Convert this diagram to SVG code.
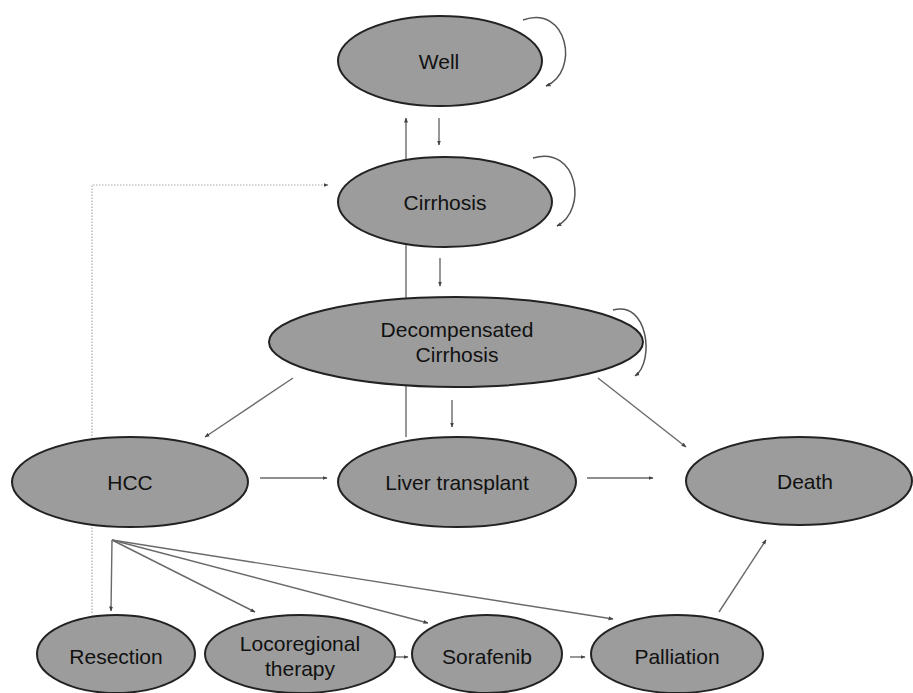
<svg xmlns="http://www.w3.org/2000/svg" width="913" height="693" viewBox="0 0 913 693">
<defs>
<style>
.node ellipse{fill:#9c9c9c;stroke:#222;stroke-width:2}
.node text{font-family:"Liberation Sans",Arial,sans-serif;font-size:21px;fill:#111;text-anchor:middle}
.conn path,.conn line{stroke:#6a6a6a;stroke-width:1.4;fill:none;marker-end:url(#ah)}
.conn .dot{stroke:#aaa;stroke-width:1.2;stroke-dasharray:1.5 1.5}
.conn .loop{stroke:#555;stroke-width:1.5}
.conn .dseg{marker-end:none}
</style>
<marker id="ah" viewBox="0 0 10 10" refX="9" refY="5" markerWidth="5" markerHeight="5" orient="auto" markerUnits="userSpaceOnUse">
<path d="M0,1 L10,5 L0,9 z" fill="#444"/>
</marker>
</defs>
<rect width="913" height="693" fill="#fff"/>
<g id="connectors" class="conn">
<line x1="439" y1="118" x2="439" y2="145"/>
<line x1="440" y1="258" x2="440" y2="286"/>
<line x1="452" y1="400" x2="452" y2="427"/>
<line x1="406" y1="437" x2="406" y2="118"/>
<line x1="293" y1="378" x2="205" y2="437"/>
<line x1="598" y1="378" x2="686" y2="447"/>
<line x1="260" y1="478" x2="327" y2="478"/>
<line x1="587" y1="478" x2="653" y2="478"/>
<line x1="112" y1="540" x2="111" y2="611"/>
<line x1="112" y1="540" x2="255" y2="612"/>
<line x1="112" y1="540" x2="428" y2="623"/>
<line x1="112" y1="540" x2="613" y2="619"/>
<line x1="395" y1="657" x2="408" y2="657"/>
<line x1="570" y1="657" x2="585" y2="657"/>
<line x1="719" y1="612" x2="766" y2="540"/>
<path class="dot" d="M92,613 L92,185 L328,185"/>
<path class="loop" d="M523,20 C568,4 580,72 546,86"/>
<path class="loop" d="M533,158 C578,145 588,210 557,226"/>
<path class="loop" d="M613,310 C648,300 655,362 635,376"/>
</g>
<g id="well" class="node"><ellipse cx="440" cy="61" rx="102" ry="45"/><text x="439" y="69">Well</text></g>
<g id="cirrhosis" class="node"><ellipse cx="445" cy="202" rx="107" ry="45"/><text x="445" y="210">Cirrhosis</text></g>
<g id="decompensated" class="node"><ellipse cx="456" cy="342" rx="187" ry="45"/><text x="457" y="337">Decompensated</text><text x="457" y="362">Cirrhosis</text></g>
<g id="hcc" class="node"><ellipse cx="130" cy="482" rx="118" ry="45"/><text x="130" y="490">HCC</text></g>
<g id="liver-transplant" class="node"><ellipse cx="457" cy="482" rx="119" ry="45"/><text x="457" y="490">Liver transplant</text></g>
<g id="death" class="node"><ellipse cx="799" cy="481" rx="113" ry="44"/><text x="805" y="489">Death</text></g>
<g id="resection" class="node"><ellipse cx="116" cy="654" rx="79" ry="39"/><text x="116" y="664">Resection</text></g>
<g id="locoregional" class="node"><ellipse cx="300" cy="654" rx="95" ry="39"/><text x="300" y="651">Locoregional</text><text x="300" y="676">therapy</text></g>
<g id="sorafenib" class="node"><ellipse cx="487" cy="654" rx="75" ry="39"/><text x="487" y="664">Sorafenib</text></g>
<g id="palliation" class="node"><ellipse cx="677" cy="654" rx="86" ry="39"/><text x="677" y="664">Palliation</text></g>
</svg>
